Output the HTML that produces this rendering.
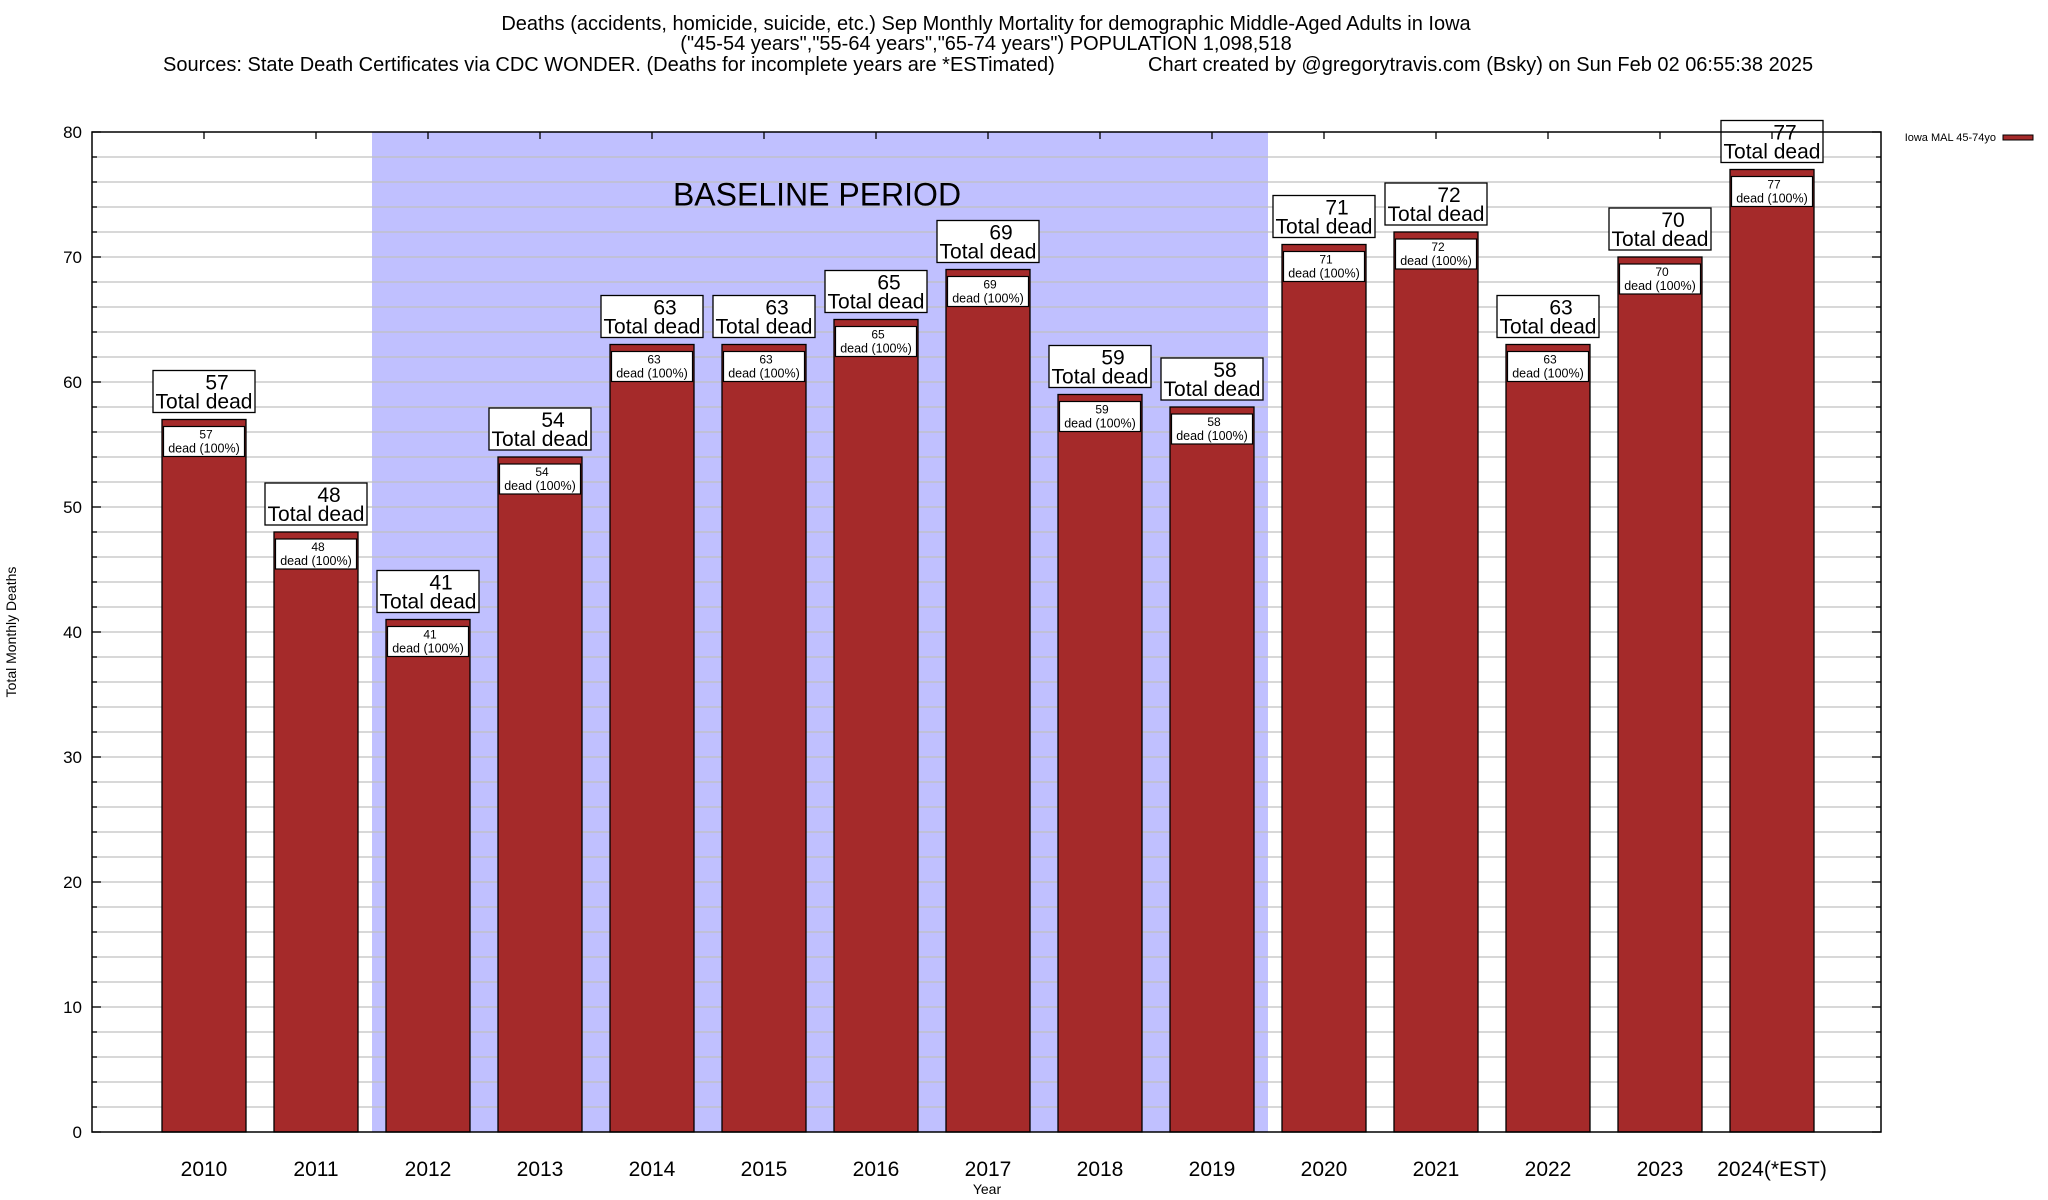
<!DOCTYPE html>
<html><head><meta charset="utf-8"><style>
html,body{margin:0;padding:0;background:#fff}
svg{display:block;font-family:"Liberation Sans",sans-serif}
</style></head><body>
<svg id="chart" width="2048" height="1200" viewBox="0 0 2048 1200">
<g font-size="20" text-anchor="middle">
<text x="986" y="30">Deaths (accidents, homicide, suicide, etc.) Sep Monthly Mortality for demographic Middle-Aged Adults in Iowa</text>
<text x="986" y="50">("45-54 years","55-64 years","65-74 years") POPULATION 1,098,518</text>
<text x="163" y="71" text-anchor="start">Sources: State Death Certificates via CDC WONDER. (Deaths for incomplete years are *ESTimated)</text>
<text x="1148" y="71" text-anchor="start">Chart created by @gregorytravis.com (Bsky) on Sun Feb 02 06:55:38 2025</text>
</g>
<g id="grid"></g>
<rect id="baseline" fill="#c0c0ff"/>
<g id="grid2"></g>
<text id="baselineLabel" font-size="32" text-anchor="middle">BASELINE PERIOD</text>
<g id="bars"></g>
<g id="axes"></g>
<text x="16" y="632" transform="rotate(-90 16 632)" font-size="14" text-anchor="middle">Total Monthly Deaths</text>
<text x="987" y="1194" font-size="14" text-anchor="middle">Year</text>
<g>
<text x="1996" y="141" font-size="11" text-anchor="end">Iowa MAL 45-74yo</text>
<rect x="2003" y="135" width="30" height="5" fill="#a52a2a" stroke="#000" stroke-width="1"/>
</g>
</svg>
<script>
const categories=["2010","2011","2012","2013","2014","2015","2016","2017","2018","2019","2020","2021","2022","2023","2024(*EST)"];
const deaths=[57,48,41,54,63,63,65,69,59,58,71,72,63,70,77];
const yTicks=[0,10,20,30,40,50,60,70,80];
const baselineRange=[2,9];
const NS="http://www.w3.org/2000/svg";
const L=92,R=1881,T=132,B=1132,YMAX=80;
const x0=204,step=112,bw=84;
function xs(i){return x0+i*step;}
function ys(v){return B-(v/YMAX)*(B-T);}
function mk(tag,attrs,parent){const e=document.createElementNS(NS,tag);for(const k in attrs)e.setAttribute(k,attrs[k]);parent.appendChild(e);return e;}
const g2=document.getElementById('grid2'),bars=document.getElementById('bars'),axes=document.getElementById('axes');
const bl=document.getElementById('baseline');
const bx1=xs(baselineRange[0])-step/2,bx2=xs(baselineRange[1])+step/2;
bl.setAttribute('x',bx1);bl.setAttribute('y',T);bl.setAttribute('width',bx2-bx1);bl.setAttribute('height',B-T);
const lab=document.getElementById('baselineLabel');
lab.setAttribute('x',(bx1+bx2)/2-3);lab.setAttribute('y',ys(75)+11);
for(let v=2;v<YMAX;v+=2){
 const l=mk('line',{x1:L,x2:R,y1:ys(v),y2:ys(v),stroke:'#c0c0c0','stroke-width':1.3},g2);
 
 
}
deaths.forEach((v,i)=>{
 const cx=xs(i),top=ys(v);
 const r=mk('rect',{x:cx-bw/2,y:top,width:bw,height:B-top,fill:'#a52a2a',stroke:'#000','stroke-width':1.3},bars);
 
 
 const ib=mk('rect',{x:cx-40.5,y:top+7,width:81,height:30,fill:'#fff',stroke:'#000','stroke-width':1.2},bars);
 
 
 const t1=mk('text',{x:cx+2,y:top+19,'font-size':12,'text-anchor':'middle'},bars);t1.textContent=v;
 
 
 const t2=mk('text',{x:cx,y:top+33,'font-size':12.5,'text-anchor':'middle'},bars);t2.textContent='dead (100%)';
 
 
 const ob=mk('rect',{x:cx-51,y:top-49,width:102,height:42,fill:'#fff',stroke:'#000','stroke-width':1.3},bars);
 
 
 const t3=mk('text',{x:cx+13,y:top-30,'font-size':21,'text-anchor':'middle'},bars);t3.textContent=v;
 
 
 const t4=mk('text',{x:cx,y:top-11,'font-size':21,'text-anchor':'middle'},bars);t4.textContent='Total dead';
 
 
 const xl=mk('text',{x:cx,y:1176,'font-size':21,'text-anchor':'middle'},axes);xl.textContent=categories[i];
 
 
 const tk=mk('line',{x1:cx,x2:cx,y1:T,y2:T+7,stroke:'#000','stroke-width':1.3},axes);
 
 
});
const fr=mk('rect',{x:L,y:T,width:R-L,height:B-T,fill:'none',stroke:'#000','stroke-width':1.5},axes);


for(let v=0;v<=YMAX;v+=2){
 const major=yTicks.includes(v);const len=major?9:5;
 const a=mk('line',{x1:L,x2:L+len,y1:ys(v),y2:ys(v),stroke:'#000','stroke-width':1.3},axes);
 
 
 const b=mk('line',{x1:R-len,x2:R,y1:ys(v),y2:ys(v),stroke:'#000','stroke-width':1.3},axes);
 
 
}
yTicks.forEach(v=>{
 const t=mk('text',{x:82,y:ys(v)+6,'font-size':17,'text-anchor':'end'},axes);t.textContent=v;
 
 
});
</script>
</body></html>
